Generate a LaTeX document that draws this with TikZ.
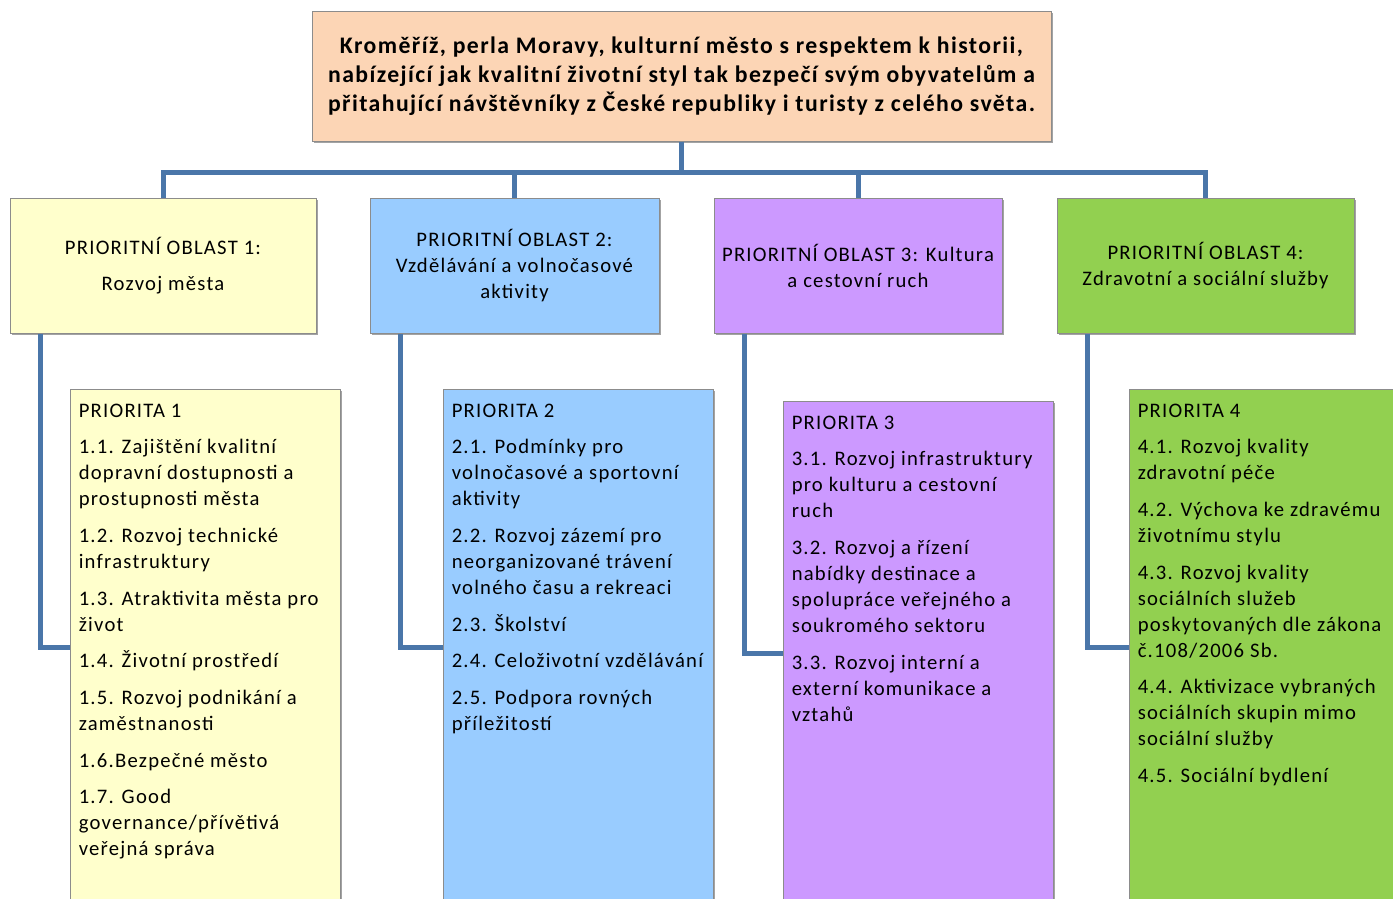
\documentclass[tikz,border=0pt]{standalone}
\usepackage{fontspec}
\setmainfont{Carlito}[LetterSpace=6]
\usetikzlibrary{positioning,calc,shadows}
\definecolor{visionFill}{HTML}{FCD5B5}
\definecolor{areaOne}{HTML}{FFFFCC}
\definecolor{areaTwo}{HTML}{99CCFF}
\definecolor{areaThree}{HTML}{CC99FF}
\definecolor{areaFour}{HTML}{92D050}
\definecolor{linkBlue}{HTML}{4A76A9}
\definecolor{boxEdge}{HTML}{8C8C8C}
\newlength{\px}\setlength{\px}{0.75pt}
\newcommand{\itemgap}{\\[8pt]}

\begin{document}
\begin{tikzpicture}[
          x=1\px,y=-1\px,
          every node/.style={font=\fontsize{15.5}{19.5}\selectfont,
                             text=black,inner sep=0pt},
          box/.style={draw=boxEdge,line width=1\px,
                      drop shadow={shadow xshift=1.5\px,shadow yshift=-1.5\px,
                                   fill=black!60,opacity=.6}},
          areabox/.style={box,minimum height=135\px,align=center},
          prioritybox/.style={box,minimum width=270\px},
          itemlist/.style={align=left,anchor=north west},
          link/.style={draw=linkBlue,line width=5\px},
        ]
        \useasboundingbox (0,0) rectangle (1393,899);
        \clip (0,0) rectangle (1393,899);
        % vision
        \node[box,fill=visionFill,minimum width=739\px,minimum height=129\px,
              align=center,font=\bfseries\fontsize{17.8}{21.75}\selectfont]
              (vision) at (681.5,76.5)
              {Kroměříž, perla Moravy, kulturní město s respektem k historii,\\
               nabízející jak kvalitní životní styl tak bezpečí svým obyvatelům a\\
               přitahující návštěvníky z České republiky i turisty z celého světa.};
        % priority areas
        \node[areabox,fill=areaOne,minimum width=306\px]
              (oa1) at (163,265.5) {PRIORITNÍ OBLAST 1:\\[7pt]Rozvoj města};
        \node[areabox,fill=areaTwo,minimum width=289\px]
              (oa2) at (514.5,265.5) {PRIORITNÍ OBLAST 2:\\Vzdělávání a volnočasové\\aktivity};
        \node[areabox,fill=areaThree,minimum width=288\px]
              (oa3) at (858,265.5) {PRIORITNÍ OBLAST 3: Kultura\\a cestovní ruch};
        \node[areabox,fill=areaFour,minimum width=297\px]
              (oa4) at (1205.5,265.5) {PRIORITNÍ OBLAST 4:\\Zdravotní a sociální služby};
        % priorities (boxes run past the bottom edge)
        \node[prioritybox,fill=areaOne,minimum height=516\px] (p1) at (205,647) {};
        \node[prioritybox,fill=areaTwo,minimum height=516\px] (p2) at (578,647) {};
        \node[prioritybox,fill=areaThree,minimum height=504\px] (p3) at (918,653) {};
        \node[prioritybox,fill=areaFour,minimum height=516\px,minimum width=271\px]
              (p4) at (1264.5,647) {};
        \node[itemlist] (p1t) at ($(p1.north west)+(9,15)$)
              {PRIORITA 1\itemgap
               1.1. Zajištění kvalitní\\dopravní dostupnosti a\\prostupnosti města\itemgap
               1.2. Rozvoj technické\\infrastruktury\itemgap
               1.3. Atraktivita města pro\\život\itemgap
               1.4. Životní prostředí\itemgap
               1.5. Rozvoj podnikání a\\zaměstnanosti\itemgap
               1.6.Bezpečné město\itemgap
               1.7. Good\\governance/přívětivá\\veřejná správa};
        \node[itemlist] (p2t) at ($(p2.north west)+(9,15)$)
              {PRIORITA 2\itemgap
               2.1. Podmínky pro\\volnočasové a sportovní\\aktivity\itemgap
               2.2. Rozvoj zázemí pro\\neorganizované trávení\\volného času a rekreaci\itemgap
               2.3. Školství\itemgap
               2.4. Celoživotní vzdělávání\itemgap
               2.5. Podpora rovných\\příležitostí};
        \node[itemlist] (p3t) at ($(p3.north west)+(9,15)$)
              {PRIORITA 3\itemgap
               3.1. Rozvoj infrastruktury\\pro kulturu a cestovní\\ruch\itemgap
               3.2. Rozvoj a řízení\\nabídky destinace a\\spolupráce veřejného a\\soukromého sektoru\itemgap
               3.3. Rozvoj interní a\\externí komunikace a\\vztahů};
        \node[itemlist] (p4t) at ($(p4.north west)+(9,15)$)
              {PRIORITA 4\itemgap
               4.1. Rozvoj kvality\\zdravotní péče\itemgap
               4.2. Výchova ke zdravému\\životnímu stylu\itemgap
               4.3. Rozvoj kvality\\sociálních služeb\\poskytovaných dle zákona\\č.108/2006 Sb.\itemgap
               4.4. Aktivizace vybraných\\sociálních skupin mimo\\sociální služby\itemgap
               4.5. Sociální bydlení};
        % connectors
        \coordinate (hub) at (vision.south |- 0,172);
        \draw[link] (vision.south) -- (hub);
        \foreach \a in {1,...,4} {
          \draw[link] (oa\a.north) |- (hub);
          \draw[link] ($(oa\a.south west)+(31,0)$) |- (p\a.west);
        }
      \end{tikzpicture}
\end{document}
